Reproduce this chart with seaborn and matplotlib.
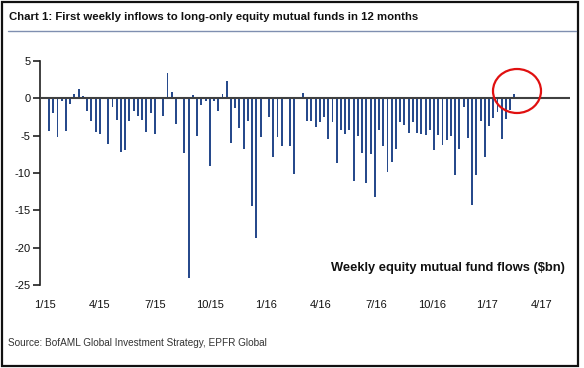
import matplotlib
matplotlib.use("Agg")
import matplotlib.pyplot as plt
import matplotlib.dates as mdates
from matplotlib.patches import Ellipse, Rectangle
from matplotlib.lines import Line2D
import seaborn as sns
import pandas as pd

# ---- data ----
first_week = "2015-01-07"
flows = [
    -4.4, -2.0, -5.2, -0.4, -4.4, -0.8, 0.6, 1.2, 0.3, -1.65,
    -3.05, -4.55, -4.75, -0.05, -6.05, -1.15, -2.85, -7.2, -6.9, -3.1,
    -1.75, -2.3, -2.9, -4.5, -2.0, -4.8, -0.05, -2.3, 3.4, 0.8,
    -3.4, -0.05, -7.3, -24.0, 0.4, -5.0, -0.9, -0.4, -9.1, -0.3,
    -1.75, 0.55, 2.3, -6.0, -1.3, -4.0, -6.8, -3.1, -14.4, -18.7,
    -5.2, -0.05, -2.5, -7.9, -5.2, -6.4, -0.1, -6.4, -10.1, -0.05,
    0.7, -3.0, -3.0, -3.8, -3.2, -2.5, -5.4, -3.2, -8.7, -4.2,
    -4.8, -4.2, -11.1, -5.0, -7.3, -11.3, -7.5, -13.2, -4.3, -6.4,
    -9.8, -8.5, -6.8, -3.2, -3.6, -4.6, -3.2, -4.6, -4.8, -4.9,
    -4.3, -6.9, -4.9, -6.2, -5.6, -5.0, -10.3, -6.8, -1.1, -5.3,
    -14.3, -10.3, -3.0, -7.9, -3.7, -2.6, -1.8, -5.5, -2.8, -1.5,
    0.6,
]
tick_dates = ["2015-01-01", "2015-04-01", "2015-07-01", "2015-10-01", "2016-01-01",
              "2016-04-01", "2016-07-01", "2016-10-01", "2017-01-01", "2017-04-01"]
tick_labels = ["1/15", "4/15", "7/15", "10/15", "1/16", "4/16", "7/16", "10/16", "1/17", "4/17"]
y_ticks = [5, 0, -5, -10, -15, -20, -25]

title = "Chart 1: First weekly inflows to long-only equity mutual funds in 12 months"
inner_label = "Weekly equity mutual fund flows ($bn)"
source = "Source: BofAML Global Investment Strategy, EPFR Global"

weeks = pd.date_range(first_week, periods=len(flows), freq="7D")
df = pd.DataFrame({"x": mdates.date2num(weeks.to_pydatetime()), "flow": flows})

# ---- style ----
sns.set_style("white")
fam = ["Liberation Sans", "DejaVu Sans"]
plt.rcParams["font.family"] = fam

W, H = 584, 368
fig = plt.figure(figsize=(W / 100, H / 100), dpi=100)
ax = fig.add_axes([40 / W, 1 - 285 / H, (570 - 40) / W, (285 - 61) / H])

sns.barplot(data=df, x="x", y="flow", native_scale=True, width=0.46,
            color="#274A8C", saturation=1, errorbar=None, ax=ax, linewidth=0)

ax.set_ylim(-25, 5)
ax.set_xlim(mdates.date2num(pd.Timestamp("2014-12-23")),
            mdates.date2num(pd.Timestamp("2017-05-18")))
ax.axhline(0, color="#404040", lw=1.5, zorder=3)

ax.set_yticks(y_ticks)
ax.set_yticklabels([str(v) for v in y_ticks])
ax.set_xticks(mdates.date2num(pd.to_datetime(tick_dates).to_pydatetime()))
ax.set_xticklabels(tick_labels)
ax.set_xlabel("")
ax.set_ylabel("")

for s in ["top", "right", "bottom"]:
    ax.spines[s].set_visible(False)
ax.spines["left"].set_color("#202020")
ax.spines["left"].set_linewidth(1.2)
ax.tick_params(axis="y", direction="out", length=5, width=1.2, color="#202020",
               labelsize=8, pad=2, left=True)
ax.tick_params(axis="x", length=0, labelsize=8, pad=11)
for lab in ax.get_xticklabels() + ax.get_yticklabels():
    lab.set_color("#111111")

# red circle highlight
circ = Ellipse((517 / W, 1 - 91 / H), 48 / W, 44 / H, transform=fig.transFigure,
               fill=False, edgecolor="#E01010", lw=1.6, zorder=10)
fig.patches.append(circ)

# texts
fig.text(9 / W, 1 - 17 / H, title, fontsize=8.2, fontweight="bold",
         ha="left", va="center", color="#111111")
fig.lines.append(Line2D([8 / W, 576 / W], [1 - 31 / H, 1 - 31 / H],
                        transform=fig.transFigure, color="#7F8FB0", lw=1.0))
fig.text(565 / W, 1 - 268 / H, inner_label, fontsize=9.3, fontweight="bold",
         ha="right", va="center", color="#111111")
fig.text(8 / W, 1 - 343 / H, source, fontsize=7.2, ha="left", va="center",
         color="#333333")

# outer frame
fig.patches.append(Rectangle((1.5 / W, 2.5 / H), (578 - 1.5) / W, (366 - 2.5) / H,
                             transform=fig.transFigure, fill=False,
                             edgecolor="#111111", lw=1.6))

fig.savefig("out.png", dpi=100)
